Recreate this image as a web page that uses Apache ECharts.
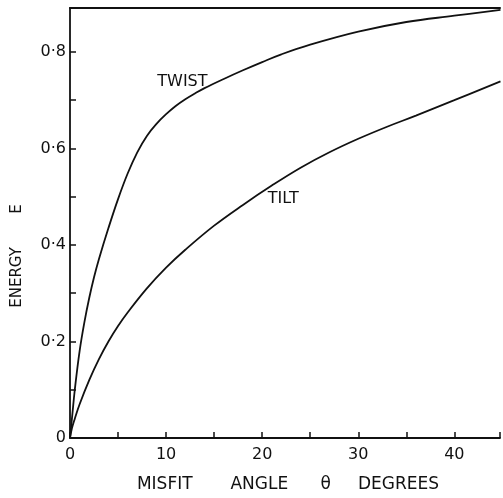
<!DOCTYPE html>
<html>
<head>
<meta charset="utf-8">
<script src="https://cdn.jsdelivr.net/npm/echarts@6/dist/echarts.min.js"></script>
<style>
  html, body { margin: 0; padding: 0; background: #fff; }
  #chart { width: 503px; height: 498px; }
</style>
</head>
<body>
<div id="chart"></div>
<script>
// misfit angle (degrees) and energy
const twistTheta = [0, 0.25, 0.5, 1, 1.5, 2, 2.5, 3, 4, 5, 6, 7, 8, 9, 10, 11, 12, 13, 14, 16, 18, 20, 22, 25, 30, 35, 40, 44.8]
const twistEnergy = [0, 0.05, 0.10, 0.18, 0.24, 0.29, 0.333, 0.37, 0.435, 0.495, 0.548, 0.592, 0.626, 0.651, 0.671, 0.688, 0.702, 0.714, 0.725, 0.744, 0.762, 0.779, 0.795, 0.815, 0.842, 0.862, 0.875, 0.887]

const tiltTheta = [0, 0.2, 0.5, 1, 2, 3, 4, 5, 6, 8, 10, 12, 15, 18, 21, 24, 27, 30, 33, 36, 40, 44.8]
const tiltEnergy = [0, 0.02, 0.04, 0.07, 0.12, 0.163, 0.2, 0.232, 0.26, 0.31, 0.353, 0.39, 0.44, 0.483, 0.523, 0.56, 0.592, 0.62, 0.645, 0.668, 0.70, 0.739]

// curve labels: [theta, energy]
const twistLabelAt = [11.7, 0.738]
const tiltLabelAt = [22.2, 0.496]

const font = 'DejaVu Sans'
const ink = '#111'

function pairs(xs, ys) {
  return xs.map((x, i) => [x, ys[i]])
}

function curve(name, xs, ys, labelAt) {
  return {
    name: name,
    type: 'line',
    data: pairs(xs, ys),
    smooth: 0.4,
    showSymbol: false,
    lineStyle: { color: ink, width: 1.8 },
    markPoint: {
      symbol: 'circle',
      symbolSize: 0,
      data: [{ coord: labelAt, name: name }],
      label: {
        show: true,
        position: 'inside',
        formatter: name,
        color: ink,
        fontFamily: font,
        fontSize: 16
      }
    }
  }
}

let myChart = echarts.init(document.getElementById('chart'))
myChart.setOption({
  animation: false,
  backgroundColor: '#fff',
  grid: { left: 70, right: -2, top: 8, bottom: 60 },
  xAxis: [{
    type: 'value',
    min: 0,
    max: 44.75,
    interval: 5,
    name: 'MISFIT       ANGLE      θ     DEGREES',
    nameLocation: 'middle',
    nameGap: 38,
    nameTextStyle: { color: ink, fontFamily: font, fontSize: 17, padding: [0, 0, 0, 6] },
    axisLine: { lineStyle: { color: ink, width: 1.8 } },
    axisTick: { inside: true, length: 6, lineStyle: { color: ink, width: 1.5 } },
    axisLabel: {
      color: ink, fontFamily: font, fontSize: 16, margin: 9,
      formatter: v => (Math.round(v) % 10 === 0 && Math.abs(v - Math.round(v)) < 1e-6) ? String(Math.round(v)) : ''
    },
    splitLine: { show: false }
  }, {
    // top frame line
    type: 'value',
    position: 'top',
    min: 0,
    max: 44.75,
    axisLine: { show: true, lineStyle: { color: ink, width: 2 } },
    axisTick: { show: false },
    axisLabel: { show: false },
    splitLine: { show: false }
  }],
  yAxis: {
    type: 'value',
    min: 0,
    max: 0.891,
    interval: 0.1,
    axisLine: { show: true, lineStyle: { color: ink, width: 1.8 } },
    axisTick: { show: true, inside: true, length: 6, lineStyle: { color: ink, width: 1.5 } },
    axisLabel: {
      color: ink, fontFamily: font, fontSize: 16, margin: 4,
      formatter: v => {
        const k = Math.round(v * 10)
        if (Math.abs(v * 10 - k) > 1e-6 || k % 2 !== 0) return ''
        return k === 0 ? '0' : (k / 10).toFixed(1).replace('.', '·')
      }
    },
    splitLine: { show: false }
  },
  graphic: [{
    type: 'text',
    rotation: Math.PI / 2,
    style: {
      text: 'ENERGY       E',
      fill: ink,
      font: '15px "DejaVu Sans"',
      align: 'center',
      verticalAlign: 'middle'
    },
    x: 17, y: 256
  }],
  series: [
    curve('TWIST', twistTheta, twistEnergy, twistLabelAt),
    curve('TILT', tiltTheta, tiltEnergy, tiltLabelAt)
  ]
})
</script>
</body>
</html>
